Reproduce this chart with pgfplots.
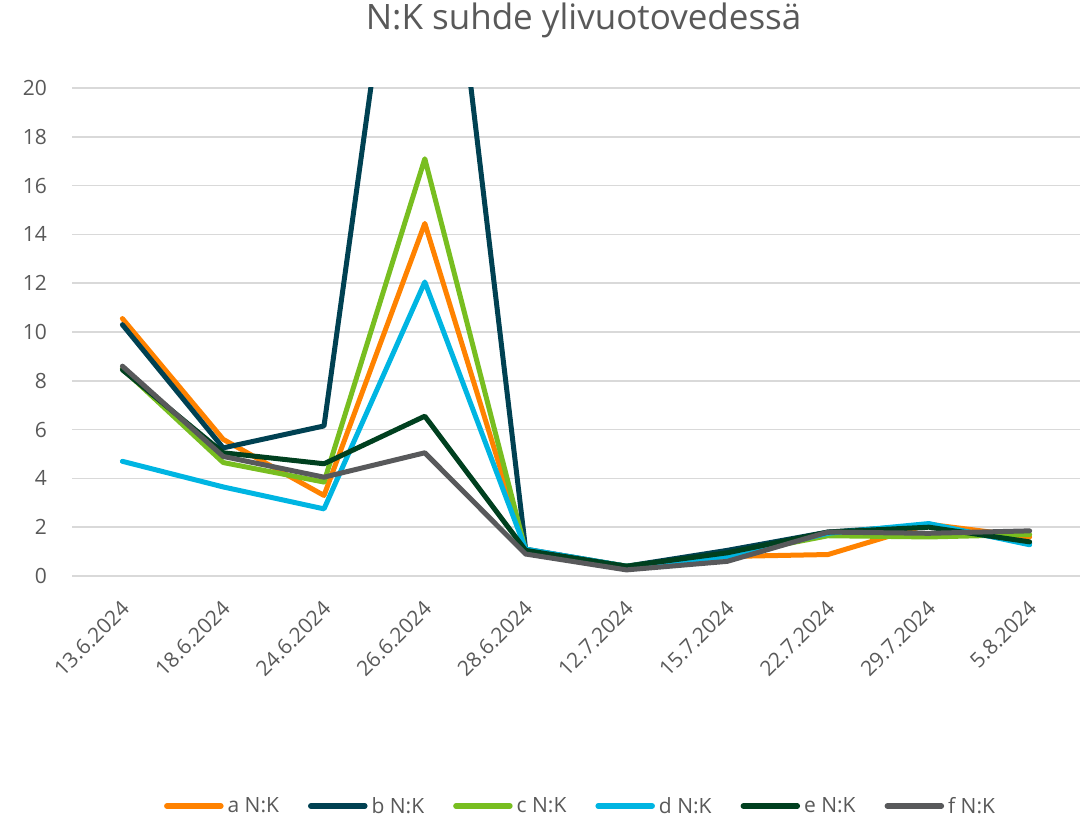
\documentclass[border=0pt]{standalone}
\usepackage{pgfplots}
\pgfplotsset{compat=1.18}
\usepackage{fontspec}
\setmainfont{Open Sans}
\definecolor{txt}{HTML}{595959}
\definecolor{grid}{HTML}{D9D9D9}
\definecolor{ca}{HTML}{FF8200}
\definecolor{cb}{HTML}{004152}
\definecolor{cc}{HTML}{78BE20}
\definecolor{cd}{HTML}{00B5E2}
\definecolor{ce}{HTML}{00401F}
\definecolor{cf}{HTML}{58595B}
\pgfplotstableread{
x a b c d e f
0 10.55 10.3 8.5 4.7 8.45 8.6
1 5.6 5.25 4.65 3.65 5.05 4.9
2 3.3 6.15 3.85 2.75 4.6 4.05
3 14.45 36 17.1 12.05 6.55 5.05
4 1.05 1.1 1.05 1.1 1.05 0.9
5 0.4 0.4 0.4 0.4 0.4 0.25
6 0.8 1.05 0.85 0.8 0.95 0.6
7 0.88 1.8 1.65 1.75 1.8 1.8
8 2.12 2.08 1.6 2.15 2.0 1.75
9 1.6 1.35 1.7 1.28 1.4 1.85
}\data
\begin{document}
\begin{tikzpicture}
\useasboundingbox (0,0) rectangle (1084bp,819bp);
\begin{axis}[
  at={(72bp,243bp)}, anchor=south west,
  scale only axis, width=1008bp, height=488bp,
  xmin=-0.5, xmax=9.5, ymin=0, ymax=20,
  ytick={0,2,...,20},
  xtick={0,...,9},
  xticklabels={13.6.2024,18.6.2024,24.6.2024,26.6.2024,28.6.2024,12.7.2024,15.7.2024,22.7.2024,29.7.2024,5.8.2024},
  axis line style={draw=none},
  major tick length=0pt,
  ymajorgrids,
  major grid style={color=grid, line width=1.5bp},
  /pgf/number format/assume math mode=true,
  ticklabel style={font=\fontsize{21bp}{25bp}\selectfont, text=txt},
  yticklabel style={inner sep=0pt, anchor=east, xshift=-25bp},
  xticklabel style={inner sep=0pt, xshift=3bp, yshift=-29bp, rotate=45, anchor=east},
  title={N:K suhde ylivuotovedessä},
  title style={at={(0.5075,1)}, anchor=base, yshift=53bp, font=\fontsize{35bp}{40bp}\selectfont, text=txt, inner sep=0pt},
  legend columns=6,
  legend style={at={(0.5045,-0.4713)}, anchor=center, draw=none, fill=none,
    font=\fontsize{21bp}{25bp}\selectfont, text=txt,
    nodes={inner sep=2bp},
    /tikz/every odd column/.append style={column sep=2bp},
    /tikz/every even column/.append style={column sep=27bp}},
  legend image code/.code={\draw[#1, line width=5.5bp, line cap=round] (0bp,0bp) -- (54bp,0bp);},
  every axis plot/.append style={line width=5bp, line join=round, line cap=round},
]
\addplot[ca] table[x=x,y=a]{\data};
\addlegendentry{a N:K}
\addplot[cb] table[x=x,y=b]{\data};
\addlegendentry{b N:K}
\addplot[cc] table[x=x,y=c]{\data};
\addlegendentry{c N:K}
\addplot[cd] table[x=x,y=d]{\data};
\addlegendentry{d N:K}
\addplot[ce] table[x=x,y=e]{\data};
\addlegendentry{e N:K}
\addplot[cf] table[x=x,y=f]{\data};
\addlegendentry{f N:K}
\end{axis}
\end{tikzpicture}
\end{document}
